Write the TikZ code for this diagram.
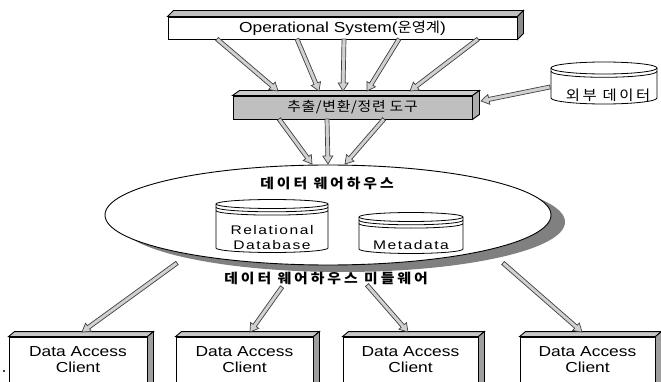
\documentclass[tikz,border=0pt]{standalone}
\usepackage{fontspec}
\setmainfont{Liberation Sans}[FakeStretch=1.2]
\newfontfamily\widesans{Liberation Sans}[FakeStretch=1.25,LetterSpace=12]
\newfontfamily\kr{Noto Sans CJK KR}[FakeStretch=1.1]
\usetikzlibrary{calc,shapes.geometric,shadows}

\tikzset{
  outline/.style={draw=black, line width=0.9pt},
  frontface/.style={outline, rectangle, inner sep=0pt},
  blockarrow/.style={draw=black!75, fill=black!18, line width=0.7pt, line join=miter},
  cylline/.style={draw=black, line width=0.8pt, fill=white},
  txt/.style={inner sep=0pt, align=center},
  boldkr/.style={txt, font=\kr\bfseries\fontsize{13.5}{16}\selectfont\addfontfeature{LetterSpace=22}},
}

% 3-D slab: top and right faces behind a front rectangle node
\newcommand\slab[5]{% node, dx, dy, top fill, side fill
  \filldraw[outline, fill=#4] (#1.north west) -- ++(#2,-#3) -- ($(#1.north east)+(#2,-#3)$) -- (#1.north east) -- cycle;
  \filldraw[outline, fill=#5] (#1.north east) -- ++(#2,-#3) -- ($(#1.south east)+(#2,-#3)$) -- (#1.south east) -- cycle;
}

% hollow block arrow from #1 to #2
\newcommand\fatarrow[2]{%
  \coordinate (ba-neck) at ($(#2)!8pt!(#1)$);
  \filldraw[blockarrow]
    ($(#1)!2pt!90:(#2)$) -- ($(ba-neck)!2pt!-90:(#1)$) -- ($(ba-neck)!5pt!-90:(#1)$) -- (#2)
    -- ($(ba-neck)!5pt!90:(#1)$) -- ($(ba-neck)!2pt!90:(#1)$) -- ($(#1)!2pt!-90:(#2)$) -- cycle;
}

% database drum: centre x, top line y, bottom line y, x radius, y radius, extra rings
\newcommand\drum[6]{%
  \filldraw[cylline] ({#1-#4},#2) -- ({#1-#4},#3)
    arc[start angle=180,end angle=360,x radius=#4pt,y radius=#5pt] -- ({#1+#4},#2)
    arc[start angle=0,end angle=180,x radius=#4pt,y radius=#5pt] -- cycle;
  \draw[cylline, fill=none] ({#1-#4},#2) arc[start angle=180,end angle=360,x radius=#4pt,y radius=#5pt];
  \foreach \k in {1,...,#6}{%
    \draw[cylline, fill=none] ({#1-#4},{#2+3.3*\k}) arc[start angle=180,end angle=360,x radius=#4pt,y radius=#5pt];}
}

\begin{document}
\begin{tikzpicture}[x=1pt, y=-1pt]
\useasboundingbox (0,0) rectangle (661,382);
\clip (0,0) rectangle (661,382);
\fill[white] (0,0) rectangle (661,382);

% source systems
\node[frontface, fill=white, minimum width=349pt, minimum height=22pt,
      font=\fontsize{14.5}{16}\selectfont] (os) at (342.5,28) {Operational System({\kr\fontsize{14}{16}\selectfont 운영계})};
\slab{os}{6}{6}{black!25}{black!45}

% extraction / transformation tool
\node[frontface, fill=black!25, minimum width=239pt, minimum height=23pt,
      font=\kr\fontsize{13.5}{15}\selectfont\addfontfeature{LetterSpace=5}] (tool) at (352.5,107.5) {추출/변환/정련 도구};
\slab{tool}{7}{5}{black!20}{black!32}

% external data
\drum{604}{68}{98}{53}{6}{1}
\node[txt, font=\kr\fontsize{14}{16}\selectfont\addfontfeature{LetterSpace=18}] (ext) at (608,95) {외부 데이터};

% warehouse
\node[ellipse, outline, fill=white, minimum width=446pt, minimum height=100pt,
      drop shadow={shadow xshift=14pt, shadow yshift=-7pt, fill=black!50, opacity=1}] (dw) at (328,215) {};
\node[boldkr] (dwt) at (327,183) {데이터 웨어하우스};
\drum{272}{204}{248}{56}{4.5}{2}
\node[txt, font=\widesans\fontsize{12.5}{15}\selectfont] (rdb) at (272,238) {Relational\\Database};
\drum{411}{217}{249}{52}{4.5}{2}
\node[txt, font=\widesans\fontsize{12.5}{15}\selectfont] (meta) at (411,245) {Metadata};

\node[boldkr] (mw) at (326,278) {데이터 웨어하우스 미들웨어};

% clients
\foreach \i/\cx/\w in {1/78/138, 2/244.5/137, 3/410.5/135, 4/587.5/135}{
  \node[frontface, fill=white, minimum width=\w pt, minimum height=55pt] (c\i) at (\cx,364.5) {};
  \slab{c\i}{6}{5}{black!22}{black!38}
  \node[txt, font=\fontsize{14.5}{16}\selectfont] (c\i t) at (\cx,360) {Data Access\\Client};
}
\fill (4,371) circle[radius=1.2pt];

% connector end points
\coordinate (os-o1) at (217,39);  \coordinate (tool-i1) at (278,91);
\coordinate (os-o2) at (297,39);  \coordinate (tool-i2) at (319,91);
\coordinate (os-o3) at (344,39);  \coordinate (tool-i3) at (343,91);
\coordinate (os-o4) at (399,39);  \coordinate (tool-i4) at (367,91);
\coordinate (os-o5) at (478,39);  \coordinate (tool-i5) at (410,91);
\coordinate (ext-o) at (550,87);  \coordinate (tool-ie) at (481,101);
\coordinate (tool-o1) at (279,119); \coordinate (dw-i1) at (312,164);
\coordinate (tool-o2) at (327,119); \coordinate (dw-i2) at (328,164);
\coordinate (tool-o3) at (384,119); \coordinate (dw-i3) at (345,164);
\coordinate (dw-o1) at (177,263); \coordinate (c1-i) at (82,332);
\coordinate (dw-o2) at (282,287); \coordinate (c2-i) at (250,332);
\coordinate (dw-o3) at (367,285); \coordinate (c3-i) at (408,332);
\coordinate (dw-o4) at (503,263); \coordinate (c4-i) at (582,332);

\foreach \k in {1,...,5}{\fatarrow{os-o\k}{tool-i\k}}
\fatarrow{ext-o}{tool-ie}
\foreach \k in {1,2,3}{\fatarrow{tool-o\k}{dw-i\k}}
\foreach \k in {1,...,4}{\fatarrow{dw-o\k}{c\k-i}}
\end{tikzpicture}
\end{document}
